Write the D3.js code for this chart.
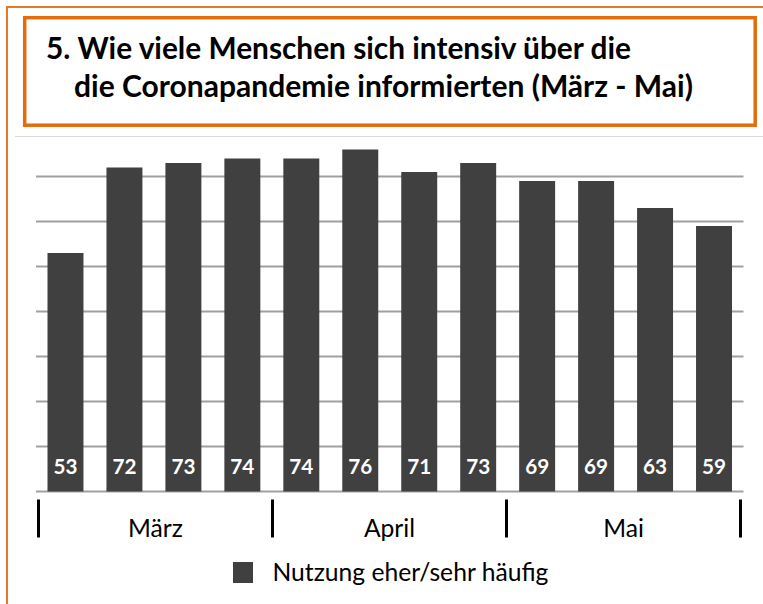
<!DOCTYPE html>
<html>
<head>
<meta charset="utf-8">
<script src="https://cdn.jsdelivr.net/npm/d3@7"></script>
<style>
  html, body { margin: 0; padding: 0; background: #fff; }
  svg { display: block; }
  text { font-family: Lato, "Open Sans", sans-serif; }
</style>
</head>
<body>
<svg id="chart" width="763" height="604"></svg>
<script>
const titleLines = ["5. Wie viele Menschen sich intensiv über die", "die Coronapandemie informierten (März - Mai)"];
const categories = ["M1","M2","M3","M4","A1","A2","A3","A4","Ma1","Ma2","Ma3","Ma4"];
const values = [53, 72, 73, 74, 74, 76, 71, 73, 69, 69, 63, 59];
const months = ["März", "April", "Mai"];
const monthStart = [0, 4, 8];
const monthEnd = [4, 8, 12];
const yTicks = [0, 10, 20, 30, 40, 50, 60, 70];
const seriesName = "Nutzung eher/sehr häufig";

const orange = "#E46C0A";
const barColor = "#404040";
const svg = d3.select("#chart");

function fit(sel, target) {
  const node = sel.node();
  const fs = parseFloat(sel.attr("font-size"));
  const w = node.getComputedTextLength();
  sel.attr("font-size", (fs * target / w).toFixed(2));
}

// outer thin frame
svg.append("rect").attr("x", 7).attr("y", 7).attr("width", 800).attr("height", 700)
  .attr("fill", "none").attr("stroke", orange).attr("stroke-width", 1.8);

// title box
svg.append("rect").attr("x", 24.7).attr("y", 17.7).attr("width", 730.5).attr("height", 107.5)
  .attr("fill", "#fff").attr("stroke", orange).attr("stroke-width", 3.5);

const t1 = svg.append("text").attr("x", 46).attr("y", 58.5).attr("font-weight", "bold")
  .attr("font-size", 28).attr("fill", "#000").text(titleLines[0]);
fit(t1, 585);
const t2 = svg.append("text").attr("x", 74).attr("y", 96.8).attr("font-weight", "bold")
  .attr("font-size", 28).attr("fill", "#000").text(titleLines[1]);
fit(t2, 619);

// separator
svg.append("line").attr("x1", 15).attr("x2", 763).attr("y1", 136.5).attr("y2", 136.5)
  .attr("stroke", "#d9d9d9").attr("stroke-width", 1);

// scales
const x = d3.scaleBand().domain(categories).range([36, 743.5])
  .paddingInner(0.39).paddingOuter(0.195);
const y = d3.scaleLinear().domain([0, 80]).range([491.5, 131.5]);

// gridlines
svg.append("g").selectAll("line").data(yTicks).join("line")
  .attr("x1", 36).attr("x2", 743.5)
  .attr("y1", d => y(d)).attr("y2", d => y(d))
  .attr("stroke", "#a0a0a0").attr("stroke-width", 2);

// bars
svg.append("g").selectAll("rect").data(values).join("rect")
  .attr("x", (d, i) => x(categories[i]))
  .attr("width", x.bandwidth())
  .attr("y", d => y(d))
  .attr("height", d => y(0) - y(d))
  .attr("fill", barColor);

// data labels
const lbl = svg.append("g").selectAll("text").data(values).join("text")
  .attr("x", (d, i) => x(categories[i]) + x.bandwidth() / 2)
  .attr("y", 473.5)
  .attr("text-anchor", "middle")
  .attr("font-weight", "bold")
  .attr("font-size", 24)
  .attr("fill", "#fff")
  .text(d => d);
{
  const n = lbl.nodes()[0];
  const w = n.getComputedTextLength();
  lbl.attr("font-size", (24 * 24 / w).toFixed(2));
}

// month group axis
const mx = d3.scaleLinear().domain([0, 12]).range([38.5, 740.5]);
const bounds = [0, 4, 8, 12];
svg.append("g").selectAll("line").data(bounds).join("line")
  .attr("x1", d => mx(d)).attr("x2", d => mx(d))
  .attr("y1", 499.5).attr("y2", 537.5)
  .attr("stroke", "#000").attr("stroke-width", 3);

const ml = svg.append("g").selectAll("text").data(months).join("text")
  .attr("x", (d, i) => (mx(monthStart[i]) + mx(monthEnd[i])) / 2)
  .attr("y", 536.7)
  .attr("text-anchor", "middle")
  .attr("font-size", 24)
  .attr("fill", "#000")
  .text(d => d);

// legend
svg.append("rect").attr("x", 233).attr("y", 562).attr("width", 20).attr("height", 21)
  .attr("fill", barColor);
const lt = svg.append("text").attr("x", 272.5).attr("y", 580.5)
  .attr("font-size", 24).attr("fill", "#000").text(seriesName);
fit(lt, 276);
ml.attr("font-size", lt.attr("font-size"));
</script>
</body>
</html>
